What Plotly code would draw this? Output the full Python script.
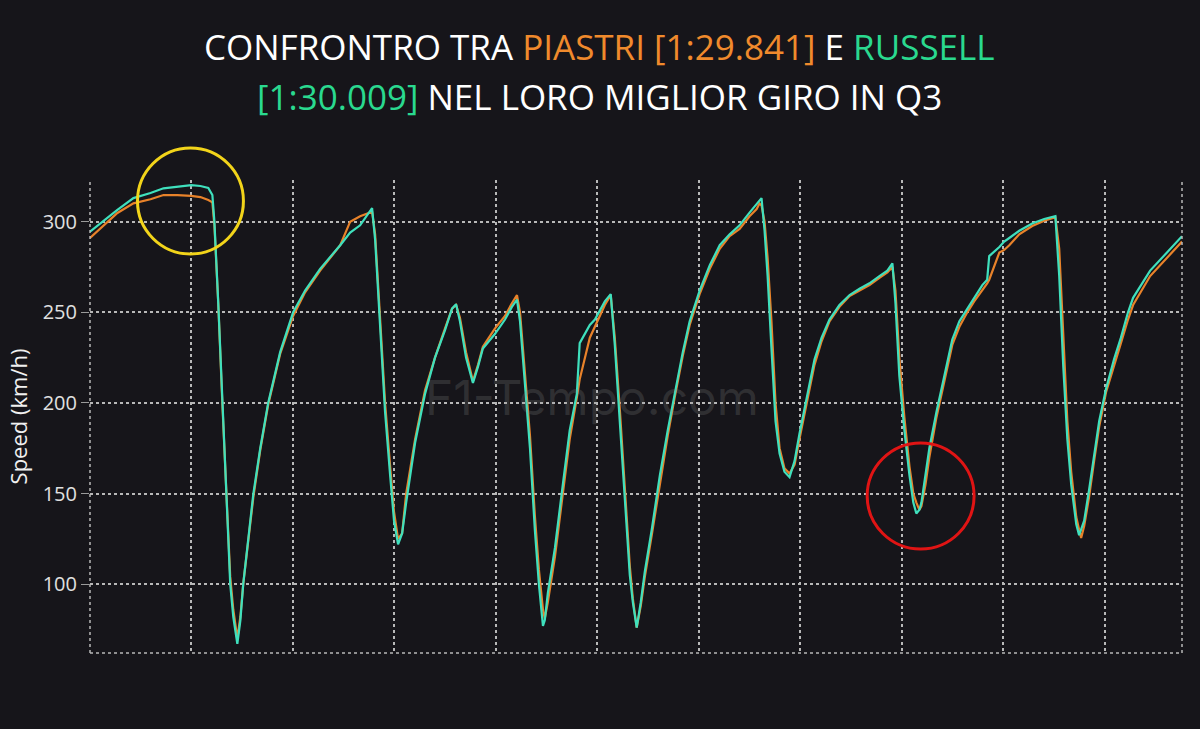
import plotly.graph_objects as go

# Distance along the lap (m)
distance_m = [0, 52, 135, 214, 298, 362, 431, 499, 544, 583, 603, 613, 632, 652, 672, 691, 706, 726, 741, 755,
              780, 805, 839, 878, 937, 1001, 1060, 1134, 1233, 1282, 1331, 1390, 1405, 1430, 1454, 1479, 1498,
              1518, 1538, 1558, 1602, 1651, 1700, 1749, 1784, 1804, 1823, 1853, 1887, 1912, 1936, 1995, 2045,
              2079, 2104, 2119, 2143, 2168, 2192, 2212, 2232, 2241, 2256, 2291, 2330, 2364, 2399, 2413, 2463,
              2488, 2537, 2566, 2586, 2611, 2635, 2660, 2675, 2694, 2714, 2734, 2768, 2808, 2847, 2881, 2921,
              2955, 3004, 3054, 3103, 3152, 3201, 3250, 3285, 3299, 3309, 3324, 3339, 3358, 3378, 3398, 3422,
              3447, 3472, 3496, 3536, 3570, 3605, 3644, 3693, 3743, 3792, 3841, 3890, 3929, 3954, 3969, 3988,
              4013, 4038, 4057, 4072, 4087, 4097, 4117, 4136, 4171, 4210, 4249, 4284, 4323, 4357, 4397, 4421,
              4431, 4481, 4505, 4530, 4579, 4643, 4702, 4757, 4776, 4796, 4816, 4835, 4860, 4874, 4884, 4899,
              4923, 4948, 4973, 5007, 5046, 5080, 5115, 5140, 5224, 5307, 5381]

russell_kmh = [294.5, 299.3, 306.5, 313, 315.8, 318.4, 319.3, 320.2, 319.7, 318.6, 314.7, 300, 255, 200, 150, 100,
               82, 67, 80, 100, 125, 150, 175, 200, 228, 250, 262, 274, 287, 294, 298, 307.5, 290, 240, 195, 160,
               135, 122, 128, 145, 178, 205, 225, 240, 252, 254.5, 245, 225, 211, 220, 230, 238, 246, 253, 257,
               245, 210, 175, 130, 100, 77, 80, 95, 120, 155, 185, 205, 233, 243, 246, 256, 260, 232, 190, 150,
               105, 90, 76, 90, 107, 130, 160, 185, 205, 228, 245, 262, 276, 287, 293, 298, 305, 310, 311.5, 313,
               295, 270, 230, 190, 172, 162, 159, 168, 183, 205, 224, 236, 246, 254, 259.5, 263, 266, 270, 273,
               277, 255, 215, 185, 160, 145, 139, 141, 145, 160, 175, 195, 215, 235, 245, 252, 258, 265, 268,
               281, 286, 289, 291, 295, 299, 301.5, 303, 270, 220, 180, 155, 133, 127, 130, 135, 152, 172, 190,
               208, 224, 236, 250, 258, 273, 283, 292]

piastri_kmh = [291, 296.5, 304.8, 310.1, 312.4, 314.7, 314.7, 314.2, 313.6, 312, 310.7, 298, 255, 200, 152, 104,
               86, 70, 82, 100, 124, 148, 174, 199, 227, 248, 261, 273, 287, 300, 303, 305.5, 293, 245, 200, 165,
               140, 125, 128, 150, 180, 207, 225, 241, 252, 254, 247, 228, 212, 221, 231, 241, 248, 255, 259.5,
               250, 218, 182, 138, 108, 86, 81, 90, 115, 150, 180, 203, 213, 236, 242, 254, 259.5, 236, 196, 156,
               110, 92, 76, 88, 104, 127, 156, 182, 203, 226, 243, 260, 274, 285, 292, 296, 303, 307, 310, 309,
               300, 280, 245, 200, 175, 164, 161, 166, 180, 202, 221, 234, 245, 253, 259, 262, 265, 269, 272,
               275, 262, 225, 192, 165, 150, 145, 141, 143, 155, 170, 192, 212, 232, 242, 250, 256, 262, 266,
               268, 283, 284.4, 287, 293, 297.6, 300.5, 302.5, 285, 235, 190, 162, 137, 130, 125.5, 132, 148, 168,
               187, 206, 221, 233, 246, 254, 270, 280, 289]

y_ticks = [100, 150, 200, 250, 300]

BG = "#16151a"
ORANGE_LINE = "#e8822a"
TEAL_LINE = "#3fe0bd"
ORANGE_TXT = "#f08a2c"
GREEN_TXT = "#2ad98f"
GRID = "#b8b8b8"

fig = go.Figure()
fig.add_trace(go.Scatter(x=distance_m, y=piastri_kmh, mode="lines", name="PIASTRI",
                         line=dict(color=ORANGE_LINE, width=2.2)))
fig.add_trace(go.Scatter(x=distance_m, y=russell_kmh, mode="lines", name="RUSSELL",
                         line=dict(color=TEAL_LINE, width=2.2)))

fig.update_layout(
    width=1200, height=729,
    paper_bgcolor=BG, plot_bgcolor=BG,
    margin=dict(l=90, r=18, t=180, b=76),
    showlegend=False,
    font=dict(family="Open Sans", color="#e6e6e6"),
    xaxis=dict(range=[0, 5381], tick0=0, dtick=500, showticklabels=False, zeroline=False,
               showgrid=True, gridcolor=GRID, griddash="dot", gridwidth=1.5, ticks="", showline=False),
    yaxis=dict(range=[62, 323], tickvals=y_ticks, zeroline=False, showgrid=True, gridcolor=GRID,
               griddash="dot", gridwidth=1.5, ticks="outside", ticklen=8, tickcolor="#9a9a9a",
               tickfont=dict(size=20, color="#e0e0e0", family="Open Sans"),
               title=dict(text="Speed (km/h)", font=dict(size=22, color="#f0f0f0", family="Open Sans"),
                          standoff=8),
               showline=False),
)

# dotted frame lines (left, bottom, right)
for x0, y0, x1, y1 in [(0, 0, 0, 1), (0, 0, 1, 0), (1, 0, 1, 1)]:
    fig.add_shape(type="line", xref="paper", yref="paper", x0=x0, y0=y0, x1=x1, y1=y1,
                  line=dict(color=GRID, width=1.5, dash="dot"))

# highlight circles
fig.add_shape(type="circle", xref="paper", yref="paper", x0=0.0435, x1=0.1405, y0=0.8436, y1=1.0677,
              line=dict(color="#f2d41a", width=3))
fig.add_shape(type="circle", xref="paper", yref="paper", x0=0.7117, x1=0.8096, y0=0.2199, y1=0.444,
              line=dict(color="#e01414", width=3))

# watermark
fig.add_annotation(text="F1-Tempo.com", xref="paper", yref="paper", x=0.46, y=0.54,
                   showarrow=False, font=dict(size=48, color="rgba(140,140,140,0.22)", family="Inter"))

# title (two lines)
line1 = ("CONFRONTRO TRA <span style='color:%s'>PIASTRI [1:29.841]</span> E "
         "<span style='color:%s'>RUSSELL</span>" % (ORANGE_TXT, GREEN_TXT))
line2 = "<span style='color:%s'>[1:30.009]</span> NEL LORO MIGLIOR GIRO IN Q3" % GREEN_TXT
fig.add_annotation(text=line1, xref="paper", yref="paper", x=0.467, y=1.283, xanchor="center",
                   yanchor="middle", showarrow=False,
                   font=dict(size=35, color="#ffffff", family="Open Sans"))
fig.add_annotation(text=line2, xref="paper", yref="paper", x=0.467, y=1.1755, xanchor="center",
                   yanchor="middle", showarrow=False,
                   font=dict(size=35, color="#ffffff", family="Open Sans"))

fig.write_html("out.html", config={"displayModeBar": False},
               post_script="document.body.style.margin='0';document.body.style.background='%s';" % BG)
